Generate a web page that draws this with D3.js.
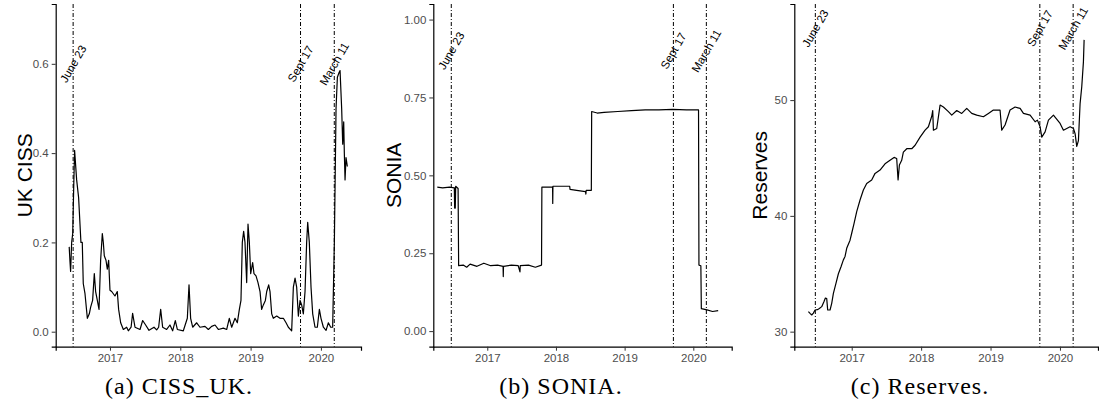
<!DOCTYPE html>
<html>
<head>
	<meta charset="utf-8">
	<title>UK CISS, SONIA, Reserves</title>
</head>

<style>
	body { margin:0; background:#fff; }
	svg { display:block; }
	.tick text { font-family:"Liberation Sans", Arial, sans-serif; fill:#4d4d4d; }
	.tick line { stroke:#333; }
	.domain { stroke:#000; }
</style>

<body>
<script src="https://cdn.jsdelivr.net/npm/d3@7"></script>
<svg width="1099" height="418"></svg>
<script>

	// ---- data (decimal years) ----
	var cissYears = [2016.42,2016.43,2016.44,2016.455,2016.47,2016.485,2016.497,2016.526,2016.554,2016.587,2016.606,2016.62,2016.644,2016.678,2016.706,2016.725,2016.753,2016.777,2016.796,2016.82,2016.844,2016.867,2016.891,2016.905,2016.919,2016.943,2016.962,2016.981,2017.0,2017.024,2017.071,2017.104,2017.123,2017.152,2017.19,2017.237,2017.261,2017.3,2017.322,2017.356,2017.427,2017.465,2017.507,2017.555,2017.626,2017.664,2017.692,2017.721,2017.749,2017.806,2017.853,2017.891,2017.929,2017.958,2018.043,2018.1,2018.124,2018.147,2018.176,2018.233,2018.28,2018.351,2018.399,2018.446,2018.494,2018.541,2018.612,2018.66,2018.697,2018.731,2018.778,2018.811,2018.84,2018.863,2018.882,2018.901,2018.92,2018.944,2018.963,2018.982,2019.001,2019.029,2019.048,2019.077,2019.105,2019.134,2019.157,2019.181,2019.21,2019.229,2019.257,2019.276,2019.3,2019.323,2019.371,2019.418,2019.466,2019.504,2019.537,2019.584,2019.608,2019.632,2019.655,2019.679,2019.703,2019.726,2019.75,2019.774,2019.797,2019.812,2019.835,2019.859,2019.883,2019.916,2019.949,2019.978,2020.001,2020.035,2020.073,2020.106,2020.139,2020.167,2020.191,2020.215,2020.234,2020.257,2020.272,2020.295,2020.31,2020.324,2020.333,2020.343,2020.357,2020.376];
	var cissValues = [0.19,0.16,0.135,0.2,0.22,0.33,0.406,0.34,0.30,0.2,0.2,0.108,0.086,0.03,0.04,0.055,0.07,0.13,0.09,0.07,0.05,0.16,0.22,0.2,0.17,0.16,0.14,0.16,0.093,0.09,0.08,0.09,0.05,0.02,0.005,0.01,0.002,0.01,0.041,0.01,0.005,0.025,0.015,0.003,0.01,0.004,0.01,0.05,0.01,0.005,0.015,0.002,0.025,0.005,0.002,0.03,0.105,0.03,0.01,0.02,0.01,0.012,0.005,0.012,0.015,0.005,0.008,0.005,0.03,0.01,0.03,0.02,0.05,0.07,0.2,0.225,0.2,0.11,0.241,0.2,0.13,0.155,0.13,0.125,0.11,0.09,0.05,0.06,0.07,0.09,0.105,0.09,0.04,0.03,0.035,0.03,0.03,0.02,0.01,0.002,0.1,0.12,0.1,0.035,0.07,0.06,0.04,0.09,0.2,0.245,0.2,0.1,0.04,0.01,0.01,0.05,0.03,0.01,0.003,0.02,0.01,0.01,0.2,0.5,0.57,0.58,0.585,0.5,0.42,0.47,0.4,0.34,0.39,0.37];

	var soniaYears = [2016.272,2016.35,2016.45,2016.52,2016.525,2016.53,2016.534,2016.54,2016.575,2016.583,2016.65,2016.7,2016.75,2016.85,2016.95,2017.05,2017.15,2017.23,2017.233,2017.236,2017.35,2017.45,2017.476,2017.48,2017.6,2017.7,2017.79,2017.795,2017.9,2017.951,2017.953,2017.956,2018.1,2018.2,2018.205,2018.3,2018.43,2018.436,2018.44,2018.515,2018.52,2018.6,2018.7,2018.9,2019.1,2019.3,2019.5,2019.7,2019.9,2020.076,2020.082,2020.11,2020.117,2020.2,2020.28,2020.362];
	var soniaValues = [0.462,0.46,0.462,0.46,0.395,0.46,0.395,0.465,0.458,0.21,0.212,0.205,0.215,0.208,0.218,0.21,0.212,0.208,0.175,0.208,0.212,0.21,0.19,0.21,0.212,0.205,0.212,0.462,0.462,0.462,0.41,0.465,0.465,0.465,0.455,0.452,0.448,0.44,0.452,0.452,0.705,0.70,0.702,0.705,0.708,0.71,0.71,0.712,0.71,0.71,0.212,0.21,0.072,0.068,0.063,0.066];

	var reservesYears = [2016.376,2016.40,2016.424,2016.448,2016.472,2016.505,2016.534,2016.568,2016.601,2016.621,2016.64,2016.654,2016.688,2016.712,2016.736,2016.774,2016.808,2016.846,2016.88,2016.904,2016.928,2016.976,2017.0,2017.034,2017.072,2017.12,2017.168,2017.216,2017.288,2017.336,2017.408,2017.48,2017.552,2017.61,2017.648,2017.668,2017.687,2017.72,2017.744,2017.793,2017.865,2017.913,2017.985,2018.057,2018.105,2018.153,2018.167,2018.177,2018.225,2018.273,2018.321,2018.393,2018.441,2018.513,2018.585,2018.657,2018.729,2018.801,2018.897,2018.969,2019.041,2019.137,2019.161,2019.209,2019.281,2019.354,2019.426,2019.474,2019.57,2019.642,2019.675,2019.714,2019.738,2019.786,2019.834,2019.906,2020.002,2020.05,2020.146,2020.194,2020.218,2020.242,2020.266,2020.29,2020.314,2020.338,2020.348];
	var reservesValues = [31.73,31.58,31.44,31.6,31.87,31.9,32.0,32.16,32.6,32.9,32.85,31.87,31.87,32.45,33.3,34.2,35.0,35.6,36.2,36.5,37.2,37.9,38.5,39.35,40.36,41.37,42.23,42.8,43.1,43.67,43.96,44.5,44.8,45.05,44.95,43.1,44.4,44.8,45.5,45.8,45.8,46.1,46.8,47.4,47.7,48.6,49.1,47.4,47.55,49.57,49.4,49.0,48.7,49.1,48.85,49.28,48.85,48.7,48.56,48.85,49.14,49.14,47.4,47.85,49.14,49.4,49.28,48.85,48.7,48.13,48.27,47.7,46.8,47.25,48.27,48.7,47.98,47.4,47.7,47.55,47.1,46.0,46.5,49.7,51.15,53.3,55.2];

	var eventYears = [2016.476, 2019.71, 2020.19];
	var eventLabels = ["June 23", "Sept 17", "March 11"];

	var captions = ["(a) CISS_UK.", "(b) SONIA.", "(c) Reserves."];

	// ---- panels ----
	var svg = d3.select("svg");
	svg.append("rect").attr("width",1099).attr("height",418).attr("fill","#fff");

	var plotTop = 4, plotBottom = 346.7;

	var panels = [
		{ years:cissYears, values:cissValues, title:"UK CISS", caption:captions[0],
		  left:55.7, right:361, xDomain:[2016.228,2020.57], yDomain:[-0.0336,0.734],
		  yTicks:[0,0.2,0.4,0.6], yFormat:d3.format(".1f"), labelY:0.6, titleX:25, capX:179 },
		{ years:soniaYears, values:soniaValues, title:"SONIA", caption:captions[1],
		  left:433.3, right:731.7, xDomain:[2016.214,2020.559], yDomain:[-0.05,1.05],
		  yTicks:[0,0.25,0.5,0.75,1], yFormat:d3.format(".2f"), labelY:0.9, titleX:394, capX:561 },
		{ years:reservesYears, values:reservesValues, title:"Reserves", caption:captions[2],
		  left:794.3, right:1098, xDomain:[2016.173,2020.548], yDomain:[28.7,58.3],
		  yTicks:[30,40,50], yFormat:d3.format("d"), labelY:56.2, titleX:760, capX:920 }
	];

	panels.forEach(function(p){
		var x = d3.scaleLinear().domain(p.xDomain).range([p.left,p.right]);
		var y = d3.scaleLinear().domain(p.yDomain).range([plotBottom,plotTop]);
		var g = svg.append("g");

		// event lines
		g.selectAll("line.event")
		 .data(eventYears)
		 .enter()
		 .append("line")
		 .attr("class","event")
		 .attr("x1",function(d){ return x(d);})
		 .attr("x2",function(d){ return x(d);})
		 .attr("y1",plotTop)
		 .attr("y2",plotBottom)
		 .attr("stroke","#000")
		 .attr("stroke-width",1)
		 .attr("stroke-dasharray","4,2,1,2");

		// series
		var pts = p.years.map(function(t,i){ return [t,p.values[i]]; });
		g.append("path")
		 .datum(pts)
		 .attr("fill","none")
		 .attr("stroke","#000")
		 .attr("stroke-width",1.2)
		 .attr("stroke-linejoin","round")
		 .attr("d",d3.line()
		 		   .x(function(d){ return x(d[0]);})
		 		   .y(function(d){ return y(d[1]);}));

		// event labels
		g.selectAll("text.event")
		 .data(eventYears)
		 .enter()
		 .append("text")
		 .attr("class","event")
		 .attr("transform",function(d){ return "translate("+ x(d) +","+ y(p.labelY) +") rotate(-60)";})
		 .attr("text-anchor","middle")
		 .attr("dy","0.35em")
		 .attr("font-family","Liberation Sans, Arial, sans-serif")
		 .attr("font-size",11.5)
		 .attr("fill","#000")
		 .text(function(d,i){ return eventLabels[i];});

		// axes
		g.append("g")
		 .attr("transform","translate(0,"+ plotBottom +")")
		 .call(d3.axisBottom(x).tickValues([2017,2018,2019,2020]).tickFormat(d3.format("d")).tickSize(4).tickPadding(3))
		 .call(function(a){ a.selectAll("text").attr("font-size",11.5); });

		g.append("g")
		 .attr("transform","translate("+ p.left +",0)")
		 .call(d3.axisLeft(y).tickValues(p.yTicks).tickFormat(p.yFormat).tickSize(4).tickPadding(3))
		 .call(function(a){ a.selectAll("text").attr("font-size",11.5); });

		g.selectAll(".domain").attr("stroke-width",1.2);

		// axis title
		g.append("text")
		 .attr("transform","translate("+ p.titleX +","+ ((plotTop+plotBottom)/2) +") rotate(-90)")
		 .attr("text-anchor","middle")
		 .attr("dy","0.35em")
		 .attr("font-family","Liberation Sans, Arial, sans-serif")
		 .attr("font-size",21)
		 .attr("fill","#000")
		 .text(p.title);

		// caption
		svg.append("text")
		   .attr("x",p.capX)
		   .attr("y",394)
		   .attr("text-anchor","middle")
		   .attr("font-family","Liberation Serif, Times New Roman, serif")
		   .attr("font-size",24)
		   .attr("letter-spacing",1)
		   .attr("fill","#000")
		   .text(p.caption);
	});

</script>
</body>
</html>
